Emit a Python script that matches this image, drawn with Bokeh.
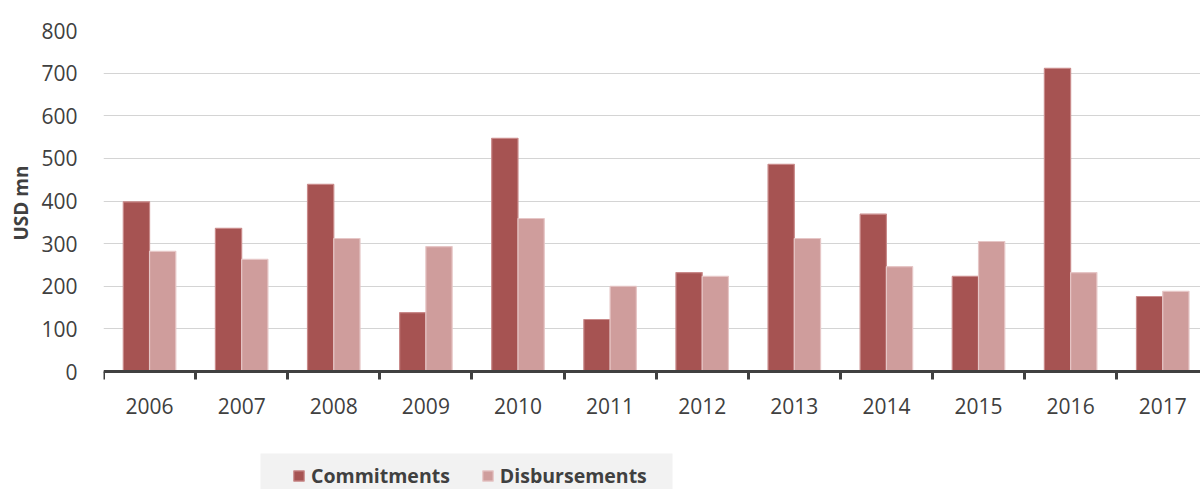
from bokeh.plotting import figure
from bokeh.models import (ColumnDataSource, FixedTicker, Range1d, Legend, LegendItem, Title,
                          BoxAnnotation)
from bokeh.transform import dodge
from bokeh.embed import file_html
from bokeh.resources import INLINE

years = [2006, 2007, 2008, 2009, 2010, 2011, 2012, 2013, 2014, 2015, 2016, 2017]
commitments = [398, 336, 439, 138, 547, 122, 232, 486, 369, 223, 711, 176]
disbursements = [282, 263, 312, 293, 359, 200, 223, 312, 246, 305, 232, 188]
y_ticks = [0, 100, 200, 300, 400, 500, 600, 700, 800]
series_names = ["Commitments", "Disbursements"]
y_title = "USD mn"

c_fill, c_line = "#a65352", "#c98a8a"
d_fill, d_line = "#cf9d9c", "#e6c6c6"
font = "Open Sans"
txt = "#404040"

src = ColumnDataSource(dict(year=years, c=commitments, d=disbursements))

# frame runs from the top margin to the bottom of the page; the x axis sits at y=0
p = figure(width=1200, height=489, output_backend="svg", toolbar_location=None,
           x_range=Range1d(2005.5, 2017.41), y_range=Range1d(-276.8, 800),
           min_border_left=101, min_border_right=0, min_border_top=30, min_border_bottom=0)
p.outline_line_color = None
p.background_fill_color = "white"
p.title.visible = False

bw = 0.285
rc = p.vbar(x=dodge('year', -bw / 2), top='c', width=bw, source=src,
            fill_color=c_fill, line_color=c_line, line_width=1.2)
rd = p.vbar(x=dodge('year', bw / 2), top='d', width=bw, source=src,
            fill_color=d_fill, line_color=d_line, line_width=1.2)

# x axis, fixed at zero
p.xaxis.fixed_location = 0
p.xaxis.ticker = FixedTicker(ticks=years, minor_ticks=[y - 0.5 for y in years] + [years[-1] + 0.5])
p.xaxis.major_tick_line_color = None
p.xaxis.minor_tick_line_color = "#404040"
p.xaxis.minor_tick_line_width = 3
p.xaxis.minor_tick_out = 8
p.xaxis.minor_tick_in = 0
p.xaxis.axis_line_color = "#404040"
p.xaxis.axis_line_width = 3
p.xaxis.major_label_text_font = font
p.xaxis.major_label_text_font_size = "21px"
p.xaxis.major_label_text_color = txt
p.xaxis.major_label_standoff = 18

# y axis
p.yaxis.ticker = FixedTicker(ticks=y_ticks)
p.yaxis.axis_line_color = None
p.yaxis.major_tick_line_color = None
p.yaxis.minor_tick_line_color = None
p.yaxis.major_label_text_font = font
p.yaxis.major_label_text_font_size = "21px"
p.yaxis.major_label_text_color = txt
p.yaxis.major_label_standoff = 20

p.add_layout(Title(text=y_title, align="left", offset=249, vertical_align="bottom",
                   text_font=font, text_font_size="19px", text_font_style="bold",
                   text_color=txt, standoff=10), "left")

p.xgrid.grid_line_color = None
p.ygrid.grid_line_color = "#d4d4d4"
p.ygrid.grid_line_width = 1

# legend background strip
p.add_layout(BoxAnnotation(left=157, right=569, bottom=-10, top=36,
                           left_units="screen", right_units="screen",
                           bottom_units="screen", top_units="screen",
                           fill_color="#f2f2f2", fill_alpha=1, line_color=None,
                           level="overlay"))

legend = Legend(items=[LegendItem(label=series_names[0], renderers=[rc]),
                       LegendItem(label=series_names[1], renderers=[rd])],
                orientation="horizontal", location=(189, 0))
legend.background_fill_alpha = 0
legend.border_line_color = None
legend.label_text_font = font
legend.label_text_font_size = "19.5px"
legend.label_text_font_style = "bold"
legend.label_text_color = txt
legend.glyph_width = 13
legend.glyph_height = 13
legend.margin = 0
legend.spacing = 31
legend.label_standoff = 6
legend.padding = 0
p.add_layout(legend, "center")

open("out.html", "w").write(file_html(p, INLINE))
